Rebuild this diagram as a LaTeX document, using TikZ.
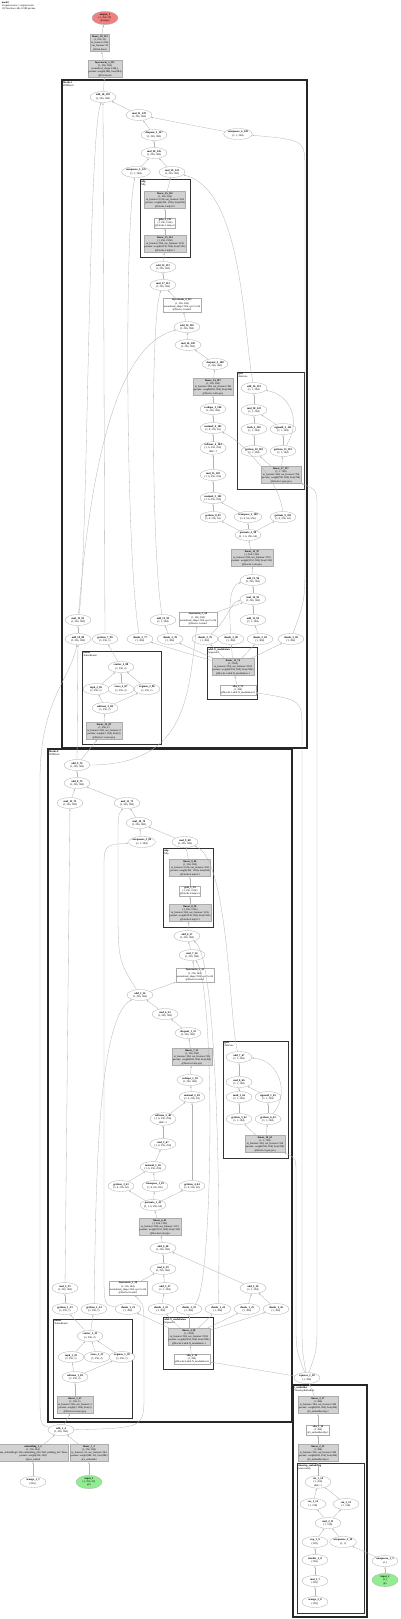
\documentclass[tikz,border=0pt]{standalone}
\usepackage{fontspec}
\setmainfont{Liberation Serif}
\usetikzlibrary{shapes.geometric,arrows.meta}
\definecolor{outred}{RGB}{240,128,128}
\definecolor{ingreen}{RGB}{144,238,144}
\begin{document}
\begin{tikzpicture}[
        x=1pt, y=-1pt,
        % function calls
        fn/.style={
            ellipse, draw=gray!65, line width=0.3pt, fill=white,
            inner sep=0.2pt, align=center,
            minimum width=26pt, minimum height=11pt,
            font=\fontsize{2.7}{3.3}\selectfont
        },
        % modules with parameters
        modbox/.style={
            rectangle, draw=gray!65, line width=0.3pt, fill=gray!35,
            inner sep=0.8pt, align=center,
            font=\fontsize{2.6}{3.3}\selectfont
        },
        % modules without parameters
        plainbox/.style={modbox, fill=white},
        % inputs and output
        inp/.style={fn, fill=ingreen},
        outp/.style={fn, fill=outred},
        % groups
        grp/.style={draw=black!85, line width=1.2pt},
        subgrp/.style={draw=black!80, line width=0.8pt},
        grplabel/.style={anchor=north west, align=left, inner sep=0.6pt,
            font=\fontsize{2.6}{3.0}\selectfont},
        % arrows
        arr/.style={-{Latex[length=2pt,width=1.5pt]}, draw=gray!60, line width=0.3pt}
    ]
    \useasboundingbox (0,0) rectangle (400,1619);

    % title
    \node[grplabel] (title) at (1,1) {\textbf{model}\\2 input tensors, 1 output tensor\\132 function calls, 8.9M params};

    % output side
    \node[outp] (out) at (105,18) {\textbf{output\_1}\\(1, 256, 32)\\@output};
    \node[modbox] (linfin) at (100,43) {\textbf{linear\_18\_132}\\(1, 256, 32)\\in\_features=384,\\out\_features=32\\@final.linear};
    \node[modbox] (lnfin) at (105,69) {\textbf{layernorm\_5\_131}\\(1, 256, 384)\\normalized\_shape=(384,),\\params: weight(384), bias(384)\\@final.norm};

    % block 1
    \draw[grp] (62,80) rectangle (307,748);
    \node[grplabel] (blk1lbl) at (62.5,80.5) {\textbf{blocks.1}\\DiTBlock};
    \draw[subgrp] (140,179) rectangle (190,257);
    \node[grplabel] (mlp1lbl) at (140.5,179.5) {\textbf{mlp}\\Mlp};
    \draw[subgrp] (237,372) rectangle (304,489);
    \node[grplabel] (gate1lbl) at (237.5,372.5) {\textbf{gate}\\AdaGate};
    \draw[subgrp] (82,651) rectangle (161,744);
    \node[grplabel] (rout1lbl) at (82.5,651.5) {\textbf{router}\\TokenRouter};
    \draw[subgrp] (207,647) rectangle (257,699);
    \node[grplabel] (ada1lbl) at (207.5,647.5) {\textbf{adaLN\_modulation}\\Sequential};

    \node[fn] (a1) at (103,97) {\textbf{add\_18\_130}\\(1, 256, 384)};
    \node[fn] (b1) at (139,115) {\textbf{mul\_21\_129}\\(1, 256, 384)};
    \node[fn] (r1) at (238,134) {\textbf{unsqueeze\_6\_128}\\(1, 1, 384)};
    \node[fn] (c1) at (154,135) {\textbf{dropout\_3\_127}\\(1, 256, 384)};
    \node[fn] (d1) at (154,153) {\textbf{mul\_20\_126}\\(1, 256, 384)};
    \node[fn] (e1) at (136,172) {\textbf{unsqueeze\_5\_125}\\(1, 1, 384)};
    \node[fn] (f1) at (172,172) {\textbf{mul\_19\_124}\\(1, 256, 384)};
    \node[modbox] (fc2a) at (165,200) {\textbf{linear\_16\_116}\\(1, 256, 384)\\in\_features=1536, out\_features=384\\params: weight(384, 1536), bias(384)\\@blocks.1.mlp.fc2};
    \node[plainbox] (acta) at (165,223) {\textbf{gelu\_2\_115}\\(1, 256, 1536)\\@blocks.1.mlp.act};
    \node[modbox] (fc1a) at (165,244) {\textbf{linear\_15\_114}\\(1, 256, 1536)\\in\_features=384, out\_features=1536\\params: weight(1536, 384), bias(1536)\\@blocks.1.mlp.fc1};
    \node[fn] (g1) at (163,267) {\textbf{add\_15\_113}\\(1, 256, 384)};
    \node[fn] (h1) at (163,285) {\textbf{mul\_17\_112}\\(1, 256, 384)};
    \node[plainbox] (nrm2a) at (182,305) {\textbf{layernorm\_4\_111}\\(1, 256, 384)\\normalized\_shape=384, eps=1e-06\\@blocks.1.norm2};
    \node[fn] (i1) at (187,327) {\textbf{add\_14\_110}\\(1, 256, 384)};
    \node[fn] (j1) at (188,345) {\textbf{mul\_16\_109}\\(1, 256, 384)};
    \node[fn] (k1) at (215,364) {\textbf{dropout\_2\_108}\\(1, 256, 384)};
    \node[modbox] (proja) at (213,387) {\textbf{linear\_14\_107}\\(1, 256, 384)\\in\_features=384, out\_features=384\\params: weight(384, 384), bias(384)\\@blocks.1.attn.proj};
    \node[fn] (l1) at (213,409) {\textbf{reshape\_2\_106}\\(1, 256, 384)};
    \node[fn] (m1) at (213,428) {\textbf{matmul\_4\_105}\\(1, 6, 256, 64)};
    \node[fn] (n1) at (213,448) {\textbf{softmax\_4\_104}\\(1, 6, 256, 256)\\dim=-1};
    \node[fn] (o1) at (213,475) {\textbf{mul\_15\_103}\\(1, 6, 256, 256)};
    \node[fn] (p1) at (213,498) {\textbf{matmul\_3\_102}\\(1, 6, 256, 256)};
    \node[fn] (q1) at (213,517) {\textbf{getitem\_8\_99}\\(1, 6, 256, 64)};
    \node[fn] (q2) at (248,517) {\textbf{transpose\_2\_100}\\(1, 6, 64, 256)};
    \node[fn] (q3) at (283,517) {\textbf{getitem\_9\_101}\\(1, 6, 256, 64)};
    \node[fn] (s1) at (248,535) {\textbf{permute\_2\_98}\\(3, 1, 6, 256, 64)};
    \node[modbox] (qkva) at (252,558) {\textbf{linear\_13\_97}\\(1, 256, 1152)\\in\_features=384, out\_features=1152\\params: weight(1152, 384), bias(1152)\\@blocks.1.attn.qkv};
    \node[fn] (t1) at (253,580) {\textbf{add\_13\_96}\\(1, 256, 384)};
    \node[fn] (u1) at (253,599) {\textbf{mul\_14\_95}\\(1, 256, 384)};
    \node[fn] (v1) at (253,620) {\textbf{add\_11\_92}\\(1, 1, 384)};
    \node[fn] (w1) at (163,620) {\textbf{add\_12\_93}\\(1, 1, 384)};
    \node[plainbox] (nrm1a) at (198,619) {\textbf{layernorm\_3\_94}\\(1, 256, 384)\\normalized\_shape=384, eps=1e-06\\@blocks.1.norm1};
    \node[fn] (x1a) at (78,620) {\textbf{mul\_13\_91}\\(1, 256, 384)};
    \node[fn] (R0) at (78,639) {\textbf{add\_10\_89}\\(1, 256, 384)};
    \node[fn] (R1) at (105,639) {\textbf{getitem\_7\_90}\\(1, 256, 1)};
    \node[fn] (R2) at (140,639) {\textbf{chunk\_2\_77}\\(1, 384)};
    \node[fn] (R3) at (170,639) {\textbf{chunk\_2\_78}\\(1, 384)};
    \node[fn] (R4) at (205,639) {\textbf{chunk\_2\_79}\\(1, 384)};
    \node[fn] (R5) at (231,639) {\textbf{chunk\_2\_80}\\(1, 384)};
    \node[fn] (R6) at (260,639) {\textbf{chunk\_2\_81}\\(1, 384)};
    \node[fn] (R7) at (291,639) {\textbf{chunk\_2\_82}\\(1, 384)};
    % gate of block 1
    \node[fn] (ga) at (254,388) {\textbf{add\_16\_123}\\(1, 1, 384)};
    \node[fn] (gb) at (254,410) {\textbf{mul\_18\_122}\\(1, 1, 384)};
    \node[fn] (gc) at (254,429) {\textbf{tanh\_2\_120}\\(1, 1, 384)};
    \node[fn] (gd) at (283,429) {\textbf{sigmoid\_2\_121}\\(1, 1, 384)};
    \node[fn] (ge) at (254,451) {\textbf{getitem\_10\_118}\\(1, 1, 384)};
    \node[fn] (gf) at (283,451) {\textbf{getitem\_11\_119}\\(1, 1, 384)};
    \node[modbox] (gl) at (281,475) {\textbf{linear\_17\_117}\\(1, 1, 768)\\in\_features=384, out\_features=768\\params: weight(768, 384), bias(768)\\@blocks.1.gate.proj};
    % router of block 1
    \node[fn] (ra) at (121,667) {\textbf{scatter\_2\_88}\\(1, 256, 2)};
    \node[fn] (rb) at (96,689) {\textbf{topk\_2\_85}\\(1, 256, 1)};
    \node[fn] (rc) at (121,689) {\textbf{zeros\_2\_87}\\(1, 256, 2)};
    \node[fn] (rd) at (147,689) {\textbf{argmax\_2\_86}\\(1, 256, 1)};
    \node[fn] (re) at (105,708) {\textbf{softmax\_3\_84}\\(1, 256, 2)};
    \node[modbox] (rl) at (104,731) {\textbf{linear\_12\_83}\\(1, 256, 2)\\in\_features=384, out\_features=2\\params: weight(2, 384), bias(2)\\@blocks.1.router.proj};
    % modulation of block 1
    \node[modbox] (al) at (233,667) {\textbf{linear\_11\_76}\\(1, 2304)\\in\_features=384, out\_features=2304\\params: weight(2304, 384), bias(2304)\\@blocks.1.adaLN\_modulation.1};
    \node[plainbox] (as) at (238,690) {\textbf{silu\_3\_75}\\(1, 384)\\@blocks.1.adaLN\_modulation.0};

    % block 0
    \draw[grp] (48,749) rectangle (292,1422);
    \node[grplabel] (blk0lbl) at (48.5,749.5) {\textbf{blocks.0}\\DiTBlock};
    \draw[subgrp] (163,848) rectangle (213,927);
    \node[grplabel] (mlp0lbl) at (163.5,848.5) {\textbf{mlp}\\Mlp};
    \draw[subgrp] (223,1041) rectangle (288,1158);
    \node[grplabel] (gate0lbl) at (223.5,1041.5) {\textbf{gate}\\AdaGate};
    \draw[subgrp] (53,1319) rectangle (132,1418);
    \node[grplabel] (rout0lbl) at (53.5,1319.5) {\textbf{router}\\TokenRouter};
    \draw[subgrp] (163,1317) rectangle (213,1369);
    \node[grplabel] (ada0lbl) at (163.5,1317.5) {\textbf{adaLN\_modulation}\\Sequential};

    \node[fn] (A) at (77,765) {\textbf{add\_9\_74}\\(1, 256, 384)};
    \node[fn] (B) at (77,783) {\textbf{add\_8\_73}\\(1, 256, 384)};
    \node[fn] (C) at (70,803) {\textbf{mul\_12\_72}\\(1, 256, 384)};
    \node[fn] (D) at (127,803) {\textbf{mul\_11\_71}\\(1, 256, 384)};
    \node[fn] (E) at (139,823) {\textbf{mul\_10\_70}\\(1, 256, 384)};
    \node[fn] (F) at (142,842) {\textbf{unsqueeze\_3\_69}\\(1, 1, 384)};
    \node[fn] (G) at (185,842) {\textbf{mul\_9\_68}\\(1, 256, 384)};
    \node[modbox] (fc2b) at (190,868) {\textbf{linear\_9\_60}\\(1, 256, 384)\\in\_features=1536, out\_features=384\\params: weight(384, 1536), bias(384)\\@blocks.0.mlp.fc2};
    \node[plainbox] (actb) at (190,891) {\textbf{gelu\_1\_59}\\(1, 256, 1536)\\@blocks.0.mlp.act};
    \node[modbox] (fc1b) at (190,913) {\textbf{linear\_8\_58}\\(1, 256, 1536)\\in\_features=384, out\_features=1536\\params: weight(1536, 384), bias(1536)\\@blocks.0.mlp.fc1};
    \node[fn] (H) at (187,936) {\textbf{add\_6\_57}\\(1, 256, 384)};
    \node[fn] (I) at (192,955) {\textbf{mul\_7\_56}\\(1, 256, 384)};
    \node[plainbox] (nrm2b) at (195,975) {\textbf{layernorm\_2\_55}\\(1, 256, 384)\\normalized\_shape=384, eps=1e-06\\@blocks.0.norm2};
    \node[fn] (J) at (140,995) {\textbf{add\_5\_54}\\(1, 256, 384)};
    \node[fn] (K) at (165,1014) {\textbf{mul\_6\_53}\\(1, 256, 384)};
    \node[fn] (L) at (188,1033) {\textbf{dropout\_1\_52}\\(1, 256, 384)};
    \node[modbox] (proj2) at (192,1057) {\textbf{linear\_7\_51}\\(1, 256, 384)\\in\_features=384, out\_features=384\\params: weight(384, 384), bias(384)\\@blocks.0.attn.proj};
    \node[fn] (M) at (190,1080) {\textbf{reshape\_1\_50}\\(1, 256, 384)};
    \node[fn] (N) at (192,1097) {\textbf{matmul\_2\_49}\\(1, 6, 256, 64)};
    \node[fn] (O) at (163,1119) {\textbf{softmax\_2\_48}\\(1, 6, 256, 256)\\dim=-1};
    \node[fn] (P) at (163,1144) {\textbf{mul\_5\_47}\\(1, 6, 256, 256)};
    \node[fn] (Q) at (153,1167) {\textbf{matmul\_1\_46}\\(1, 6, 256, 256)};
    \node[fn] (R1b) at (121,1186) {\textbf{getitem\_3\_43}\\(1, 6, 256, 64)};
    \node[fn] (R2b) at (155,1186) {\textbf{transpose\_1\_45}\\(1, 6, 64, 256)};
    \node[fn] (R3b) at (192,1186) {\textbf{getitem\_4\_44}\\(1, 6, 256, 64)};
    \node[fn] (S) at (153,1205) {\textbf{permute\_1\_42}\\(3, 1, 6, 256, 64)};
    \node[modbox] (qkv2) at (160,1227) {\textbf{linear\_6\_41}\\(1, 256, 1152)\\in\_features=384, out\_features=1152\\params: weight(1152, 384), bias(1152)\\@blocks.0.attn.qkv};
    \node[fn] (T) at (163,1248) {\textbf{add\_4\_40}\\(1, 256, 384)};
    \node[fn] (U) at (163,1269) {\textbf{mul\_4\_39}\\(1, 256, 384)};
    \node[fn] (V) at (165,1288) {\textbf{add\_3\_37}\\(1, 1, 384)};
    \node[plainbox] (nrm1b) at (128,1288) {\textbf{layernorm\_1\_38}\\(1, 256, 384)\\normalized\_shape=384, eps=1e-06\\@blocks.0.norm1};
    \node[fn] (W) at (65,1288) {\textbf{mul\_3\_35}\\(1, 256, 384)};
    \node[fn] (X) at (253,1288) {\textbf{add\_2\_36}\\(1, 1, 384)};
    \node[fn] (Z0) at (65,1309) {\textbf{getitem\_1\_33}\\(1, 256, 1)};
    \node[fn] (Z1) at (94,1309) {\textbf{getitem\_2\_34}\\(1, 256, 1)};
    \node[fn] (Z2) at (128,1309) {\textbf{chunk\_1\_21}\\(1, 384)};
    \node[fn] (Z3) at (161,1309) {\textbf{chunk\_1\_22}\\(1, 384)};
    \node[fn] (Z4) at (189,1309) {\textbf{chunk\_1\_23}\\(1, 384)};
    \node[fn] (Z5) at (218,1309) {\textbf{chunk\_1\_24}\\(1, 384)};
    \node[fn] (Z6) at (247,1309) {\textbf{chunk\_1\_25}\\(1, 384)};
    \node[fn] (Z7) at (276,1309) {\textbf{chunk\_1\_26}\\(1, 384)};
    % gate of block 0
    \node[fn] (ga2) at (239,1057) {\textbf{add\_7\_67}\\(1, 1, 384)};
    \node[fn] (gb2) at (239,1082) {\textbf{mul\_8\_66}\\(1, 1, 384)};
    \node[fn] (gc2) at (239,1097) {\textbf{tanh\_1\_64}\\(1, 1, 384)};
    \node[fn] (gd2) at (268,1097) {\textbf{sigmoid\_1\_65}\\(1, 1, 384)};
    \node[fn] (ge2) at (239,1119) {\textbf{getitem\_5\_62}\\(1, 1, 384)};
    \node[fn] (gf2) at (268,1119) {\textbf{getitem\_6\_63}\\(1, 1, 384)};
    \node[modbox] (gl2) at (265,1144) {\textbf{linear\_10\_61}\\(1, 1, 768)\\in\_features=384, out\_features=768\\params: weight(768, 384), bias(768)\\@blocks.0.gate.proj};
    % router of block 0
    \node[fn] (ra2) at (90,1336) {\textbf{scatter\_1\_32}\\(1, 256, 2)};
    \node[fn] (rb2) at (71,1357) {\textbf{topk\_1\_29}\\(1, 256, 1)};
    \node[fn] (rc2) at (97,1357) {\textbf{zeros\_1\_31}\\(1, 256, 2)};
    \node[fn] (rd2) at (122,1357) {\textbf{argmax\_1\_30}\\(1, 256, 1)};
    \node[fn] (re2) at (75,1377) {\textbf{softmax\_1\_28}\\(1, 256, 2)};
    \node[modbox] (rl2) at (75,1405) {\textbf{linear\_5\_27}\\(1, 256, 2)\\in\_features=384, out\_features=2\\params: weight(2, 384), bias(2)\\@blocks.0.router.proj};
    % modulation of block 0
    \node[modbox] (al2) at (189,1337) {\textbf{linear\_4\_20}\\(1, 2304)\\in\_features=384, out\_features=2304\\params: weight(2304, 384), bias(2304)\\@blocks.0.adaLN\_modulation.1};
    \node[plainbox] (as2) at (192,1359) {\textbf{silu\_2\_19}\\(1, 384)\\@blocks.0.adaLN\_modulation.0};

    % embeddings
    \node[fn] (add0) at (61,1430) {\textbf{add\_1\_4}\\(1, 256, 384)};
    \node[modbox] (emb) at (33,1453) {\textbf{embedding\_1\_2}\\(1, 256, 384)\\num\_embeddings=256, embedding\_dim=384, padding\_idx=None\\params: weight(256, 384)\\@pos\_embed};
    \node[modbox] (xemb) at (89,1453) {\textbf{linear\_1\_3}\\(1, 256, 384)\\in\_features=32, out\_features=384\\params: weight(384, 32), bias(384)\\@x\_embedder};
    \node[fn] (ar0) at (33,1482) {\textbf{arange\_1\_1}\\(256,)};
    \node[inp] (in1) at (89,1482) {\textbf{input\_1}\\(1, 256, 32)\\@x};

    % timestep embedder
    \node[fn] (unsq) at (307,1378) {\textbf{squeeze\_1\_18}\\(1, 384)};
    \draw[grp] (293,1385) rectangle (367,1617);
    \node[grplabel] (tlbl) at (293.5,1385.5) {\textbf{t\_embedder}\\TimestepEmbedder};
    \draw[subgrp] (297,1463) rectangle (364,1613);
    \node[grplabel] (flbl) at (297.5,1463.5) {\textbf{timestep\_embedding}\\(sinusoidal)};
    \node[modbox] (tl2) at (318,1405) {\textbf{linear\_3\_17}\\(1, 384)\\in\_features=384, out\_features=384\\params: weight(384, 384), bias(384)\\@t\_embedder.mlp.2};
    \node[plainbox] (ts) at (318,1430) {\textbf{silu\_1\_16}\\(1, 384)\\@t\_embedder.mlp.1};
    \node[modbox] (tl1) at (318,1453) {\textbf{linear\_2\_15}\\(1, 384)\\in\_features=256, out\_features=384\\params: weight(384, 256), bias(384)\\@t\_embedder.mlp.0};
    \node[fn] (cat) at (318,1482) {\textbf{cat\_1\_14}\\(1, 256)\\dim=-1};
    \node[fn] (cos) at (313,1504) {\textbf{cos\_1\_12}\\(1, 128)};
    \node[fn] (sin) at (346,1504) {\textbf{sin\_1\_13}\\(1, 128)};
    \node[fn] (mulm) at (328,1523) {\textbf{mul\_2\_11}\\(1, 128)};
    \node[fn] (exp) at (315,1542) {\textbf{exp\_1\_9}\\(128,)};
    \node[fn] (un2) at (343,1542) {\textbf{unsqueeze\_2\_10}\\(1, 1)};
    \node[fn] (div) at (315,1560) {\textbf{truediv\_1\_8}\\(128,)};
    \node[fn] (mul0) at (315,1581) {\textbf{mul\_1\_7}\\(128,)};
    \node[fn] (ar) at (315,1602) {\textbf{arange\_2\_6}\\(128,)};
    \node[fn] (un3) at (385,1561) {\textbf{unsqueeze\_1\_5}\\(1,)};
    \node[inp] (in2) at (385,1580) {\textbf{input\_2}\\(1,)\\@t};

    % connectors: timestep path
    \draw[arr] (in2) -- (un3);
    \draw[arr] (un3) -- (un2);
    \draw[arr] (ar) -- (mul0);
    \draw[arr] (mul0) -- (div);
    \draw[arr] (div) -- (exp);
    \draw[arr] (exp) -- (mulm);
    \draw[arr] (un2) -- (mulm);
    \draw[arr] (mulm) -- (cos);
    \draw[arr] (mulm) -- (sin);
    \draw[arr] (cos) -- (cat);
    \draw[arr] (sin) -- (cat);
    \draw[arr] (cat) -- (tl1);
    \draw[arr] (tl1) -- (ts);
    \draw[arr] (ts) -- (tl2);
    \draw[arr] (tl2) -- (unsq);

    % connectors: embeddings
    \draw[arr] (ar0) -- (emb);
    \draw[arr] (in1) -- (xemb);
    \draw[arr] (emb) -- (add0);
    \draw[arr] (xemb) -- (add0);

    % connectors: conditioning
    \draw[arr] (unsq) -- (as2);
    \draw[arr] (unsq) .. controls (296,1350) .. (296,1320) -- (296,1175) .. controls (296,1158) .. (gl2);
    \draw[arr] (unsq) .. controls (302,1350) .. (302,1320) -- (302,730) .. controls (302,700) .. (as);
    \draw[arr] (unsq) .. controls (317,1350) .. (317,1320) -- (317,510) .. controls (317,490) .. (gl);

    % connectors: block 0
    \draw[arr] (add0) -- (rl2);
    \draw[arr] (add0) .. controls (144,1428) .. (144,1395) -- (144,1330) .. controls (144,1305) .. (nrm1b);
    \draw[arr] (rl2) -- (re2);
    \draw[arr] (re2) -- (rb2);
    \draw[arr] (re2) -- (rd2);
    \draw[arr] (rb2) -- (ra2);
    \draw[arr] (rc2) -- (ra2);
    \draw[arr] (rd2) -- (ra2);
    \draw[arr] (ra2) -- (Z0);
    \draw[arr] (ra2) -- (Z1);
    \draw[arr] (as2) -- (al2);
    \draw[arr] (al2) -- (Z2);
    \draw[arr] (al2) -- (Z3);
    \draw[arr] (al2) -- (Z4);
    \draw[arr] (al2) -- (Z5);
    \draw[arr] (al2) -- (Z6);
    \draw[arr] (al2) -- (Z7);
    \draw[arr] (Z0) -- (W);
    \draw[arr] (W) -- (C);
    \draw[arr] (Z1) .. controls (96,1200) and (96,1020) .. (J);
    \draw[arr] (Z2) .. controls (104,1305) .. (104,1270) -- (104,870) .. controls (104,845) .. (F);
    \draw[arr] (Z3) -- (V);
    \draw[arr] (Z4) .. controls (213,1290) and (216,990) .. (I);
    \draw[arr] (Z5) .. controls (220,1270) and (220,960) .. (H);
    \draw[arr] (Z6) -- (X);
    \draw[arr] (Z7) -- (X);
    \draw[arr] (X) -- (T);
    \draw[arr] (V) -- (U);
    \draw[arr] (nrm1b) -- (U);
    \draw[arr] (U) -- (T);
    \draw[arr] (T) -- (qkv2);
    \draw[arr] (qkv2) -- (S);
    \draw[arr] (S) -- (R1b);
    \draw[arr] (S) -- (R2b);
    \draw[arr] (S) -- (R3b);
    \draw[arr] (R1b) -- (Q);
    \draw[arr] (R2b) -- (Q);
    \draw[arr] (R3b) -- (N);
    \draw[arr] (Q) -- (P);
    \draw[arr] (P) -- (O);
    \draw[arr] (O) -- (N);
    \draw[arr] (N) -- (M);
    \draw[arr] (M) -- (proj2);
    \draw[arr] (proj2) -- (L);
    \draw[arr] (L) -- (K);
    \draw[arr] (K) -- (J);
    \draw[arr] (J) -- (nrm2b);
    \draw[arr] (nrm2b) -- (I);
    \draw[arr] (I) -- (H);
    \draw[arr] (H) -- (fc1b);
    \draw[arr] (fc1b) -- (actb);
    \draw[arr] (actb) -- (fc2b);
    \draw[arr] (fc2b) -- (G);
    \draw[arr] (gl2) -- (ge2);
    \draw[arr] (gl2) -- (gf2);
    \draw[arr] (ge2) -- (gc2);
    \draw[arr] (gf2) -- (gd2);
    \draw[arr] (gc2) -- (gb2);
    \draw[arr] (gd2) -- (gb2);
    \draw[arr] (gb2) -- (ga2);
    \draw[arr] (gf2) .. controls (290,1095) and (280,1060) .. (ga2);
    \draw[arr] (ga2) .. controls (229,1020) and (229,860) .. (G);
    \draw[arr] (G) -- (E);
    \draw[arr] (F) -- (E);
    \draw[arr] (E) -- (D);
    \draw[arr] (J) .. controls (118,960) .. (118,900) -- (118,840) .. controls (118,815) .. (D);
    \draw[arr] (D) -- (B);
    \draw[arr] (C) -- (B);
    \draw[arr] (B) -- (A);

    % connectors: block 1
    \draw[arr] (A) -- (rl);
    \draw[arr] (A) -- (R0);
    \draw[arr] (add0) .. controls (40,1425) .. (40,1390) -- (40,780) .. controls (40,700) and (70,680) .. (R0);
    \draw[arr] (A) .. controls (190,765) and (188,690) .. (nrm1a);
    \draw[arr] (rl) -- (re);
    \draw[arr] (re) -- (rb);
    \draw[arr] (re) -- (rd);
    \draw[arr] (rb) -- (ra);
    \draw[arr] (rc) -- (ra);
    \draw[arr] (rd) -- (ra);
    \draw[arr] (ra) -- (R1);
    \draw[arr] (as) -- (al);
    \draw[arr] (al) -- (R2);
    \draw[arr] (al) -- (R3);
    \draw[arr] (al) -- (R4);
    \draw[arr] (al) -- (R5);
    \draw[arr] (al) -- (R6);
    \draw[arr] (al) -- (R7);
    \draw[arr] (R0) -- (x1a);
    \draw[arr] (x1a) .. controls (88,560) and (88,140) .. (a1);
    \draw[arr] (x1a) .. controls (92,450) and (120,345) .. (i1);
    \draw[arr] (R1) -- (a1);
    \draw[arr] (R2) .. controls (126,560) and (124,230) .. (e1);
    \draw[arr] (R3) -- (w1);
    \draw[arr] (w1) .. controls (152,560) and (150,320) .. (h1);
    \draw[arr] (R4) .. controls (228,620) and (230,602) .. (u1);
    \draw[arr] (R5) .. controls (229,610) and (229,585) .. (t1);
    \draw[arr] (R6) -- (v1);
    \draw[arr] (R7) .. controls (305,600) .. (305,560) -- (305,170) .. controls (305,140) .. (r1);
    \draw[arr] (v1) -- (u1);
    \draw[arr] (nrm1a) -- (u1);
    \draw[arr] (u1) -- (t1);
    \draw[arr] (t1) -- (qkva);
    \draw[arr] (qkva) -- (s1);
    \draw[arr] (s1) -- (q1);
    \draw[arr] (s1) -- (q2);
    \draw[arr] (s1) -- (q3);
    \draw[arr] (q1) -- (p1);
    \draw[arr] (q2) -- (p1);
    \draw[arr] (q3) .. controls (280,480) and (240,440) .. (m1);
    \draw[arr] (p1) -- (o1);
    \draw[arr] (o1) -- (n1);
    \draw[arr] (n1) -- (m1);
    \draw[arr] (m1) -- (l1);
    \draw[arr] (l1) -- (proja);
    \draw[arr] (proja) -- (k1);
    \draw[arr] (k1) -- (j1);
    \draw[arr] (j1) -- (i1);
    \draw[arr] (i1) -- (nrm2a);
    \draw[arr] (nrm2a) -- (h1);
    \draw[arr] (h1) -- (g1);
    \draw[arr] (g1) -- (fc1a);
    \draw[arr] (fc1a) -- (acta);
    \draw[arr] (acta) -- (fc2a);
    \draw[arr] (fc2a) -- (f1);
    \draw[arr] (gl) -- (ge);
    \draw[arr] (gl) -- (gf);
    \draw[arr] (ge) -- (gc);
    \draw[arr] (gf) -- (gd);
    \draw[arr] (gc) -- (gb);
    \draw[arr] (gd) -- (gb);
    \draw[arr] (gb) -- (ga);
    \draw[arr] (gf) .. controls (302,420) and (290,395) .. (ga);
    \draw[arr] (ga) .. controls (243,330) and (243,190) .. (f1);
    \draw[arr] (f1) -- (d1);
    \draw[arr] (e1) -- (d1);
    \draw[arr] (d1) -- (c1);
    \draw[arr] (c1) -- (b1);
    \draw[arr] (r1) -- (b1);
    \draw[arr] (b1) -- (a1);
    \draw[arr] (a1) -- (lnfin);
    \draw[arr] (lnfin) -- (linfin);
    \draw[arr] (linfin) -- (out);
\end{tikzpicture}
\end{document}
